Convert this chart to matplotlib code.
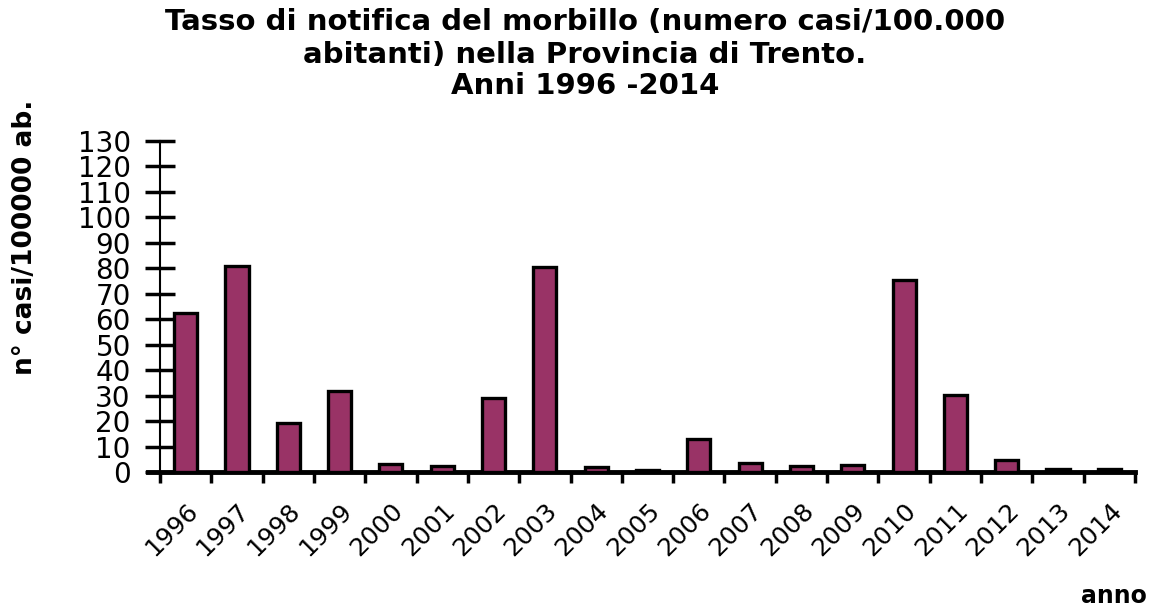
import matplotlib
matplotlib.use("Agg")
import matplotlib.pyplot as plt
import numpy as np

years = ["1996", "1997", "1998", "1999", "2000", "2001", "2002", "2003", "2004", "2005",
         "2006", "2007", "2008", "2009", "2010", "2011", "2012", "2013", "2014"]
rates = [62.4, 81.0, 19.2, 31.8, 3.1, 2.4, 29.0, 80.5, 2.0, 0.8,
         13.0, 3.5, 2.4, 2.7, 75.4, 30.2, 4.7, 1.2, 1.2]
yticks = list(range(0, 131, 10))

title_lines = ["Tasso di notifica del morbillo (numero casi/100.000",
               "abitanti) nella Provincia di Trento.",
               "Anni 1996 -2014"]

plt.rcParams['font.family'] = ['DejaVu Sans']

fig = plt.figure(figsize=(11.57, 6.08), dpi=100)
ax = fig.add_axes([148 / 1157, 0.2237, 987 / 1157, 0.5444])

x = np.arange(len(years))
ax.bar(x, rates, width=0.45, color="#993366", edgecolor="black", linewidth=2.4, zorder=3)

ax.set_ylim(0, 130)
ax.set_xlim(-0.5 - 12 / 51.3, len(years) - 0.5)
ax.spines['top'].set_visible(False)
ax.spines['right'].set_visible(False)
ax.spines['left'].set_position(('data', -0.5))
ax.spines['left'].set_linewidth(1.5)
ax.spines['bottom'].set_linewidth(3.5)

ax.set_yticks(yticks)
ax.set_yticklabels([str(v) for v in yticks], fontsize=20)
ax.tick_params(axis='y', direction='inout', length=22, width=2.5, pad=10)

ax.set_xticks(np.arange(len(years) + 1) - 0.5)
ax.set_xticklabels([])
ax.tick_params(axis='x', which='major', direction='out', length=8, width=2.5)
ax.set_xticks(x, minor=True)
ax.set_xticklabels(years, minor=True, rotation=45, ha='right', rotation_mode='anchor', fontsize=18)
ax.tick_params(axis='x', which='minor', length=0, pad=19)

fig.text(25 / 1157, 1 - 237 / 608, "n° casi/100000 ab.", rotation=90, ha='center', va='center',
         fontsize=19, fontweight='bold')

for line, yc in zip(title_lines, [22, 55, 86]):
    fig.text(585 / 1157, 1 - yc / 608, line, ha='center', va='center', fontsize=21, fontweight='bold')

fig.text(1147 / 1157, 1 - 596 / 608, "anno", ha='right', va='center', fontsize=17, fontweight='bold')

fig.savefig("out.png", dpi=100)
